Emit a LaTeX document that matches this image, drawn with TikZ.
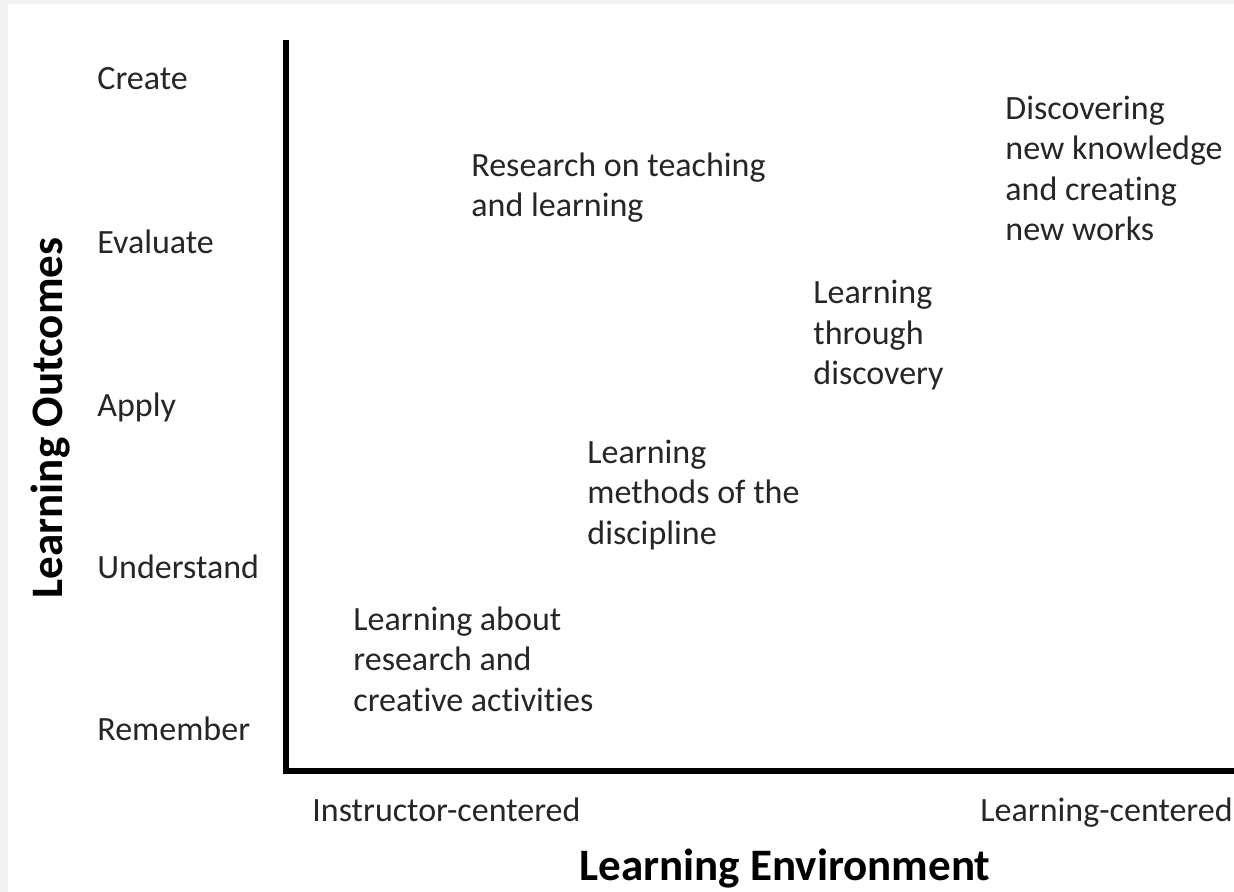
\documentclass[tikz,border=0pt]{standalone}
\usepackage{fontspec}
\setmainfont{Carlito}[Ligatures=NoCommon]
\definecolor{framegray}{HTML}{F2F2F2}
\definecolor{inkgray}{HTML}{262626}
\tikzset{
  level/.style = {anchor=base west, inner sep=0pt, text=inkgray, font=\fontsize{17}{20.25}\selectfont},
  idea/.style = {level, align=left},
  axistitle/.style = {anchor=base, inner sep=0pt, text=black, font=\fontsize{22.5}{27}\selectfont\bfseries}
}

\begin{document}
\begin{tikzpicture}[x=0.5pt, y=-0.5pt]
\fill [framegray] (0,0) rectangle (1234,892);
\fill [white] (8,4) rectangle (1234,892);
\useasboundingbox (0,0) rectangle (1234,892);
% axes
\coordinate (top) at (286,40);
\coordinate (origin) at (286,771);
\coordinate (right) at (1234,771);
\draw [line width=2.6pt] (top) -- (origin) -- (right);
% levels of learning outcomes
\node [level] (create) at (97,90) {Create};
\node [level] (evaluate) at (97,254) {Evaluate};
\node [level] (apply) at (97,416) {Apply};
\node [level] (understand) at (97,578) {Understand};
\node [level] (remember) at (97,740) {Remember};
% environment ends
\node [level] (instr) at (312,821) {Instructor-centered};
\node [level] (lcent) at (980,821) {Learning-centered};
% axis titles
\node [axistitle, rotate=90] (outcomes) at (62,418) {Learning Outcomes};
\node [axistitle] (environment) at (785,880) {Learning Environment};
% kinds of research experience (anchored at last baseline)
\node [idea] (about) at (353,711) {Learning about\\research and\\creative activities};
\node [idea] (methods) at (587,544) {Learning\\methods of the\\discipline};
\node [idea] (discovery) at (813,385) {Learning\\through\\discovery};
\node [idea] (teaching) at (471,217) {Research on teaching\\and learning};
\node [idea] (newworks) at (1005,241) {Discovering\\new knowledge\\and creating\\new works};
\end{tikzpicture}
\end{document}
